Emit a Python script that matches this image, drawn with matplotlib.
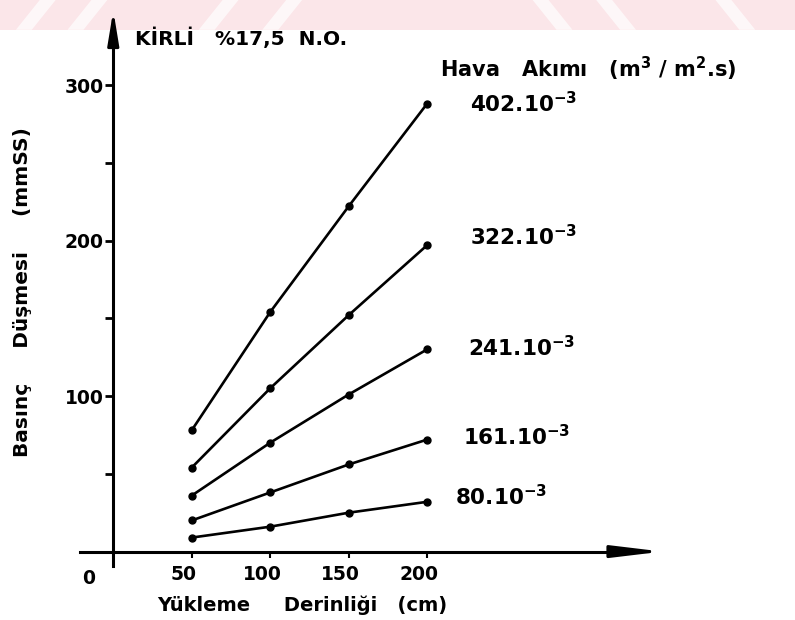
import matplotlib
matplotlib.use("Agg")
import matplotlib.pyplot as plt
import matplotlib.transforms as mtransforms
from matplotlib.patches import Polygon, Rectangle

# loading depth (cm)
depth = [50, 100, 150, 200]

# pressure drop (mmSS) for each air flow rate
flow_labels = ["402.10", "322.10", "241.10", "161.10", "80.10"]
p_402 = [78, 154, 222, 288]
p_322 = [54, 105, 152, 197]
p_241 = [36, 70, 101, 130]
p_161 = [20, 38, 56, 72]
p_80 = [9, 16, 25, 32]
series = [p_402, p_322, p_241, p_161, p_80]

y_major = [100, 200, 300]
y_minor = [50, 150, 250]

# label offsets (pixels) from the last point of each curve
label_dx = [43, 43, 41, 36, 28]
label_dy = [0, 9, 2, 3, 5]

plt.rcParams["font.family"] = ["DejaVu Sans"]
plt.rcParams["mathtext.fontset"] = "dejavusans"

fig = plt.figure(figsize=(7.95, 6.2), dpi=100)
fig.patch.set_facecolor("white")

# faint pink band across the top edge with pale diagonal streaks
band = Rectangle((0, 0.952), 1, 0.048, transform=fig.transFigure,
                 facecolor="#fbe6e9", edgecolor="none", zorder=-2)
fig.patches.append(band)
for x0, lean in [(0.02, 1), (0.085, 1), (0.25, 1), (0.33, 1), (0.70, -1),
                 (0.78, -1), (0.93, -1)]:
    dx = 0.03 * lean
    poly = Polygon([(x0, 0.952), (x0 + 0.02, 0.952), (x0 + 0.02 + dx, 1.0),
                    (x0 + dx, 1.0)], closed=True, transform=fig.transFigure,
                   facecolor="white", edgecolor="none", alpha=0.7, zorder=-1)
    fig.patches.append(poly)

ax = fig.add_axes([0, 0, 1, 1])
ax.set_facecolor("none")
ax.set_xlim(-72.2, 434.5)
ax.set_ylim(-44.0, 354.7)

for vals in series:
    ax.plot(depth, vals, color="black", lw=1.9, marker="o", ms=5,
            solid_capstyle="round", zorder=3)

for vals, lab, dx, dy in zip(series, flow_labels, label_dx, label_dy):
    ax.annotate(lab + r"$^{\mathbf{-3}}$", xy=(depth[-1], vals[-1]),
                xytext=(dx, dy), textcoords="offset pixels",
                ha="left", va="center", fontsize=15.5, fontweight="bold")

# axes drawn as crossing lines at the origin with arrow heads
for side in ["top", "right"]:
    ax.spines[side].set_visible(False)
ax.spines["left"].set_position(("data", 0))
ax.spines["bottom"].set_position(("data", 0))
ax.spines["left"].set_bounds(-9, 330)
ax.spines["bottom"].set_bounds(-21, 330)
ax.spines["left"].set_linewidth(2.2)
ax.spines["bottom"].set_linewidth(2.2)

ax.annotate("", xy=(0, 348), xytext=(0, 325),
            arrowprops=dict(arrowstyle="-|>,head_length=2.0,head_width=0.33",
                            mutation_scale=10, lw=2.2, color="black",
                            shrinkA=0, shrinkB=0))
ax.annotate("", xy=(350, 0), xytext=(320, 0),
            arrowprops=dict(arrowstyle="-|>,head_length=3.0,head_width=0.36",
                            mutation_scale=10, lw=2.2, color="black",
                            shrinkA=0, shrinkB=0))

ax.set_yticks(y_major)
ax.set_yticklabels([str(v) for v in y_major], fontsize=13.5, fontweight="bold")
ax.set_yticks(y_minor, minor=True)
ax.tick_params(axis="y", which="both", direction="out", length=6, width=2,
               pad=1)

ax.set_xticks(depth)
ax.set_xticklabels([str(v) for v in depth], fontsize=13.5, fontweight="bold")
ax.tick_params(axis="x", direction="out", length=4, width=1.5, pad=6)
shift = mtransforms.ScaledTranslation(-8 / 100, 0, fig.dpi_scale_trans)
for lab in ax.get_xticklabels():
    lab.set_transform(lab.get_transform() + shift)

ax.text(-16, -17, "0", ha="center", va="center", fontsize=13.5,
        fontweight="bold")

fig.text(0.170, 0.939, "KİRLİ   %17,5  N.O.", ha="left", va="center",
         fontsize=14.5, fontweight="bold")
fig.text(0.553, 0.889,
         r"Hava   Akımı   (m$^{\mathbf{3}}$ / m$^{\mathbf{2}}$.s)",
         ha="left", va="center", fontsize=15, fontweight="bold")
fig.text(0.028, 0.529, "Basınç     Düşmesi     (mmSS)", rotation=90,
         ha="center", va="center", fontsize=14.5, fontweight="bold")
fig.text(0.38, 0.024, "Yükleme     Derinliği   (cm)", ha="center",
         va="center", fontsize=14, fontweight="bold")

fig.savefig("out.png", dpi=100)
